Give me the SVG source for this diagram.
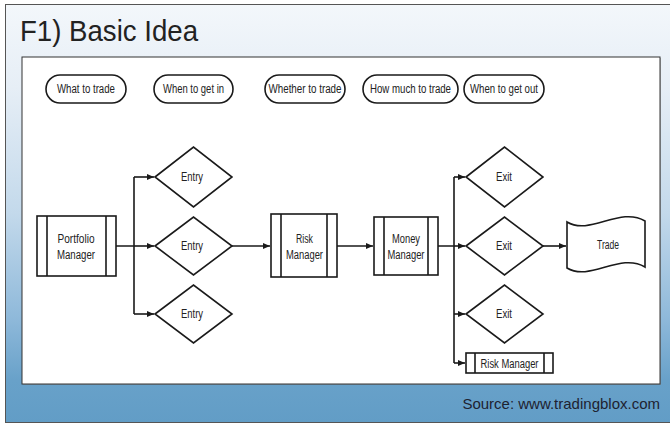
<svg xmlns="http://www.w3.org/2000/svg" width="670" height="425" viewBox="0 0 670 425">
<defs>
<linearGradient id="bg" x1="0" y1="0" x2="0" y2="1">
<stop offset="0" stop-color="#f3f7fb"/>
<stop offset="0.2" stop-color="#e6eef6"/>
<stop offset="0.5" stop-color="#c3d9eb"/>
<stop offset="0.75" stop-color="#8fb9da"/>
<stop offset="0.9" stop-color="#68a1c9"/>
<stop offset="1" stop-color="#629dc6"/>
</linearGradient>
<marker id="arr" markerUnits="userSpaceOnUse" markerWidth="8" markerHeight="8" refX="7" refY="3" orient="auto">
<path d="M0,0 L7,3 L0,6 z" fill="#1a1a1a"/>
</marker>
<style>
.ln{fill:none;stroke:#1a1a1a;stroke-width:1.6}
.sh{fill:#fff;stroke:#1a1a1a;stroke-width:1.6}
.t{font-family:"Liberation Sans",Arial,sans-serif;font-size:12.5px;fill:#222;text-anchor:middle}
</style>
</defs>
<rect x="5.5" y="4.5" width="670" height="418" fill="url(#bg)" stroke="#555" stroke-width="1"/>
<text x="20" y="41" font-family="'Liberation Sans',Arial,sans-serif" font-size="29" fill="#222" textLength="178" lengthAdjust="spacingAndGlyphs">F1) Basic Idea</text>
<rect x="23" y="58" width="638" height="327" fill="#888" opacity="0.5"/>
<rect x="22" y="57" width="638" height="327" fill="#fff" stroke="#333" stroke-width="1"/>
<text x="660" y="409" font-family="'Liberation Sans',Arial,sans-serif" font-size="15" fill="#1e2230" text-anchor="end">Source: www.tradingblox.com</text>

<g id="pill-what">
<rect class="sh" x="46" y="75" width="80" height="28" rx="14"/>
<text class="t" x="86" y="93" textLength="58" lengthAdjust="spacingAndGlyphs">What to trade</text>
</g>
<g id="pill-when-in">
<rect class="sh" x="154" y="75" width="79" height="28" rx="14"/>
<text class="t" x="193.5" y="93" textLength="61" lengthAdjust="spacingAndGlyphs">When to get in</text>
</g>
<g id="pill-whether">
<rect class="sh" x="265" y="75" width="80" height="28" rx="14"/>
<text class="t" x="305" y="93" textLength="73" lengthAdjust="spacingAndGlyphs">Whether to trade</text>
</g>
<g id="pill-how-much">
<rect class="sh" x="363" y="75" width="95" height="28" rx="14"/>
<text class="t" x="410.5" y="93" textLength="81" lengthAdjust="spacingAndGlyphs">How much to trade</text>
</g>
<g id="pill-when-out">
<rect class="sh" x="464" y="75" width="80" height="28" rx="14"/>
<text class="t" x="504" y="93" textLength="68" lengthAdjust="spacingAndGlyphs">When to get out</text>
</g>

<g id="connectors">
<path class="ln" d="M116,246 H134 M134,177 V314"/>
<path class="ln" d="M134,177 H154" marker-end="url(#arr)"/>
<path class="ln" d="M134,246 H154" marker-end="url(#arr)"/>
<path class="ln" d="M134,314 H154" marker-end="url(#arr)"/>
<path class="ln" d="M232,246 H270" marker-end="url(#arr)"/>
<path class="ln" d="M337,246 H373" marker-end="url(#arr)"/>
<path class="ln" d="M438,246 H454 M454,177 V363"/>
<path class="ln" d="M454,177 H465" marker-end="url(#arr)"/>
<path class="ln" d="M454,246 H465" marker-end="url(#arr)"/>
<path class="ln" d="M454,314 H465" marker-end="url(#arr)"/>
<path class="ln" d="M454,363 H465" marker-end="url(#arr)"/>
<path class="ln" d="M543,246 H566" marker-end="url(#arr)"/>
</g>

<g id="portfolio-manager">
<rect class="sh" x="37" y="216" width="79" height="60"/>
<path class="ln" d="M47,216 V276 M106,216 V276"/>
<text class="t" x="76" y="243" textLength="37" lengthAdjust="spacingAndGlyphs">Portfolio</text>
<text class="t" x="76" y="259" textLength="38" lengthAdjust="spacingAndGlyphs">Manager</text>
</g>

<g id="entry-1">
<path class="sh" d="M155,177 L193.5,147 L232,177 L193.5,207 Z"/>
<text class="t" x="192" y="181" textLength="22" lengthAdjust="spacingAndGlyphs">Entry</text>
</g>
<g id="entry-2">
<path class="sh" d="M155,246 L193.5,217 L232,246 L193.5,275 Z"/>
<text class="t" x="192" y="250" textLength="22" lengthAdjust="spacingAndGlyphs">Entry</text>
</g>
<g id="entry-3">
<path class="sh" d="M155,314 L193.5,285 L232,314 L193.5,343 Z"/>
<text class="t" x="192" y="318" textLength="22" lengthAdjust="spacingAndGlyphs">Entry</text>
</g>

<g id="risk-manager">
<rect class="sh" x="271" y="214" width="66" height="63"/>
<path class="ln" d="M281,214 V277 M327,214 V277"/>
<text class="t" x="304.5" y="243" textLength="17" lengthAdjust="spacingAndGlyphs">Risk</text>
<text class="t" x="304.5" y="259" textLength="37" lengthAdjust="spacingAndGlyphs">Manager</text>
</g>

<g id="money-manager">
<rect class="sh" x="374" y="217" width="64" height="58"/>
<path class="ln" d="M384,217 V275 M428,217 V275"/>
<text class="t" x="406" y="243" textLength="28" lengthAdjust="spacingAndGlyphs">Money</text>
<text class="t" x="406" y="259" textLength="37" lengthAdjust="spacingAndGlyphs">Manager</text>
</g>

<g id="exit-1">
<path class="sh" d="M466,177 L504.5,147 L543,177 L504.5,207 Z"/>
<text class="t" x="504" y="181" textLength="16" lengthAdjust="spacingAndGlyphs">Exit</text>
</g>
<g id="exit-2">
<path class="sh" d="M466,246 L504.5,217 L543,246 L504.5,275 Z"/>
<text class="t" x="504" y="250" textLength="16" lengthAdjust="spacingAndGlyphs">Exit</text>
</g>
<g id="exit-3">
<path class="sh" d="M466,314 L504.5,285 L543,314 L504.5,343 Z"/>
<text class="t" x="504" y="318" textLength="16" lengthAdjust="spacingAndGlyphs">Exit</text>
</g>

<g id="risk-manager-2">
<rect class="sh" x="466" y="353" width="87" height="20"/>
<path class="ln" d="M475,353 V373 M544,353 V373"/>
<text class="t" x="509.5" y="368" textLength="58" lengthAdjust="spacingAndGlyphs">Risk Manager</text>
</g>

<g id="trade">
<path class="sh" d="M567,222 C590,236 620,206 645,221 L645,267 C620,252 590,282 567,268 Z"/>
<text class="t" x="608" y="249" textLength="22" lengthAdjust="spacingAndGlyphs">Trade</text>
</g>
</svg>
